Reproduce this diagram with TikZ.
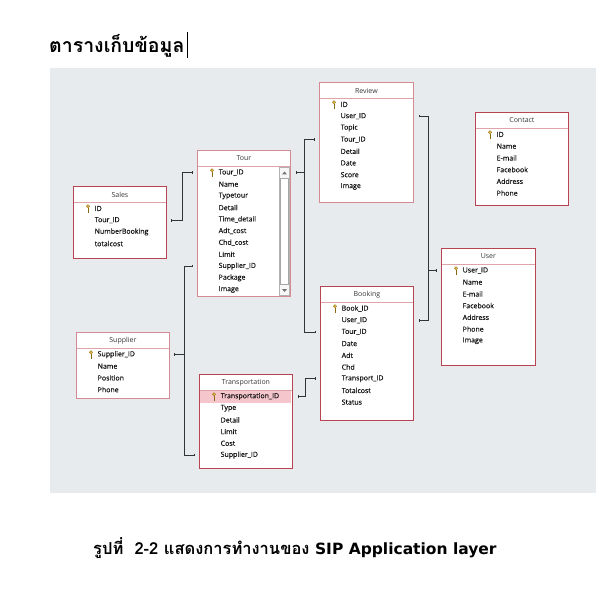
\documentclass[tikz,border=0pt]{standalone}
\usepackage{fontspec}
\setmainfont{Open Sans}
\newfontfamily\fldfont[FakeBold=0.3]{Open Sans}
\newfontfamily\thaifont[Script=Thai]{Loma}
\newfontfamily\latfont{DejaVu Sans}
\usetikzlibrary{calc,arrows.meta}

% primary-key glyph
\tikzset{pkkey/.pic={
  \fill[cKey, draw=cKeyD, line width=0.3pt] (0,-2.2) circle (1.7);
  \fill[cKeyD] (-0.4,-0.6) rectangle (0.4,3.8);
  \fill[cKeyD] (0.4,2.2) rectangle (1.3,2.8);
  \fill[cKeyD] (0.4,3.2) rectangle (1.3,3.8);
  \fill[white] (0,-2.5) circle (0.5);
}}

% table frame + title + header rule
\newcommand\dbtable[7]{%
  \node[tbl=#7, minimum width=#4, minimum height=#5] (#1) at (#2,#3) {};
  \draw[hdrline] ($(#1.north west)+(0.5,16.5)$) -- ($(#1.north east)+(-0.5,16.5)$);
  \node[ttl] (#1-h) at ($(#1.north)+(0,8.5)$) {#6};}

% field rows, key on the first one
\newcommand\fields[4]{%
  \pic at ({#2+15},{#3+22.5}) {pkkey};
  \foreach \f [count=\i] in {#4}
    \node[fld] (#1-\i) at ({#2+21.5},{#3+22.5+11.7*(\i-1)}) {\f};}

\begin{document}
\begin{tikzpicture}[x=1pt,y=-1pt,
  font=\fontsize{7}{8}\selectfont,
  >={Bar[width=2.6pt,line width=1pt]},
  tbl/.style={draw=#1, fill=white, line width=0.8pt, anchor=north west, inner sep=0pt},
  ttl/.style={text=black!78, inner sep=0pt},
  fld/.style={anchor=west, inner sep=0pt, text=black!92, font=\fldfont\fontsize{7}{8}\selectfont},
  hdrline/.style={draw=cRule, line width=1pt},
  rel/.style={draw=black!80, line width=0.7pt}
]

% ---- palette ----
\definecolor{cPanel}{HTML}{E8EBEE}
\definecolor{dbRed}{HTML}{B84452}
\definecolor{dbPink}{HTML}{D48A93}
\definecolor{cRule}{HTML}{DDA5A9}
\definecolor{cHi}{HTML}{F5C6CB}
\definecolor{cKey}{HTML}{D9A520}
\definecolor{cKeyD}{HTML}{8A6A10}

\fill[white] (0,0) rectangle (612,612);
\useasboundingbox (0,0) rectangle (612,612);

% ================= title and panel =================
\node[anchor=west, inner sep=0pt, font=\thaifont\bfseries\fontsize{19.5}{22}\selectfont] (title) at (49,46) {ตารางเก็บข้อมูล};
\draw[line width=0.8pt] ($(title.north east)+(2.5,-2)$) -- ($(title.south east)+(2.5,0)$);
\fill[cPanel] (50,68) rectangle (596,493);

% ================= tables =================
\dbtable{sales}{73}{186}{93}{72}{Sales}{dbRed}
\fields{sales}{73}{186}{ID, Tour\_ID, NumberBooking, totalcost}

\dbtable{tour}{197}{150}{93}{146}{Tour}{dbPink}
\draw[draw=black!30, fill=black!3] (279,167.5) rectangle (289.5,295.5);
\draw[draw=black!35, fill=white] (280.5,178.5) rectangle (288,284.5);
\fill[black!55] (282,174.5) -- (287,174.5) -- (284.5,171.5) -- cycle;
\fill[black!55] (282,289) -- (287,289) -- (284.5,292) -- cycle;
\fields{tour}{197}{150}{Tour\_ID, Name, Typetour, Detail, Time\_detail, Adt\_cost, Chd\_cost, Limit, Supplier\_ID, Package, Image}

\dbtable{review}{319}{82}{94}{120}{Review}{dbPink}
\fields{review}{319}{82}{ID, User\_ID, Topic, Tour\_ID, Detail, Date, Score, Image}

\dbtable{contact}{475}{112}{93}{93}{Contact}{dbRed}
\fields{contact}{475}{112}{ID, Name, E-mail, Facebook, Address, Phone}

\dbtable{user}{441}{248}{94}{117}{User}{dbRed}
\fields{user}{441}{248}{User\_ID, Name, E-mail, Facebook, Address, Phone, Image}

\dbtable{booking}{320}{286}{93}{134}{Booking}{dbRed}
\fields{booking}{320}{286}{Book\_ID, User\_ID, Tour\_ID, Date, Adt, Chd, Transport\_ID, Totalcost, Status}

\dbtable{supplier}{76}{332}{93}{66}{Supplier}{dbPink}
\fields{supplier}{76}{332}{Supplier\_ID, Name, Position, Phone}

\dbtable{trans}{199}{374}{93}{94}{Transportation}{dbRed}
\fill[cHi] (200,390.5) rectangle (291,402.5);
\fields{trans}{199}{374}{Transportation\_ID, Type, Detail, Limit, Cost, Supplier\_ID}

% ================= relationships =================
% Sales -- Tour
\coordinate (sA) at ($(sales.east |- sales-2)+(4,0)$);
\coordinate (tA) at ($(tour.west |- tour-1)+(-4,0)$);
\draw[rel,<->] (sA) -- ++(12,0) |- (tA);

% Supplier -- Tour, Transportation
\coordinate (pB) at ($(supplier.east |- supplier-1)+(4,0)$);
\coordinate (jB) at ($(pB)+(11,0)$);
\coordinate (tB) at ($(tour.west |- tour-9)+(-4,0)$);
\coordinate (rB) at ($(trans.west |- trans-6)+(-4,0)$);
\draw[rel,<-] (pB) -- (jB);
\draw[rel,->] (jB) |- (tB);
\draw[rel,->] (jB) |- (rB);

% Tour -- Review, Booking
\coordinate (tC) at ($(tour.east |- tour-1)+(5,0)$);
\coordinate (jC) at ($(tC)+(9,0)$);
\coordinate (rC) at ($(review.west |- review-4)+(-4,0)$);
\coordinate (bC) at ($(booking.west |- booking-3)+(-4,0)$);
\draw[rel,<-] (tC) -- (jC);
\draw[rel,->] (jC) |- (rC);
\draw[rel,->] (jC) |- (bC);

% User -- Review, Booking
\coordinate (uD) at ($(user.west |- user-1)+(-4,0)$);
\coordinate (jD) at ($(uD)+(-9,0)$);
\coordinate (rD) at ($(review.east |- review-2)+(5,0)$);
\coordinate (bD) at ($(booking.east |- booking-2)+(5,0)$);
\draw[rel,<-] (uD) -- (jD);
\draw[rel,->] (jD) |- (rD);
\draw[rel,->] (jD) |- (bD);

% Transportation -- Booking
\coordinate (xE) at ($(trans.east |- trans-1)+(5,0)$);
\coordinate (bE) at ($(booking.west |- booking-7)+(-4,0)$);
\draw[rel,<->] (xE) -- ++(8,0) |- (bE);

% ================= caption =================
\node[anchor=west, inner sep=0pt, font=\thaifont\bfseries\fontsize{16.5}{19}\selectfont] (caption) at (93,548) {รูปที่\ \ 2-2 แสดงการทำงานของ {\latfont\bfseries\fontsize{15.5}{19}\selectfont SIP Application layer}};

\end{tikzpicture}
\end{document}
